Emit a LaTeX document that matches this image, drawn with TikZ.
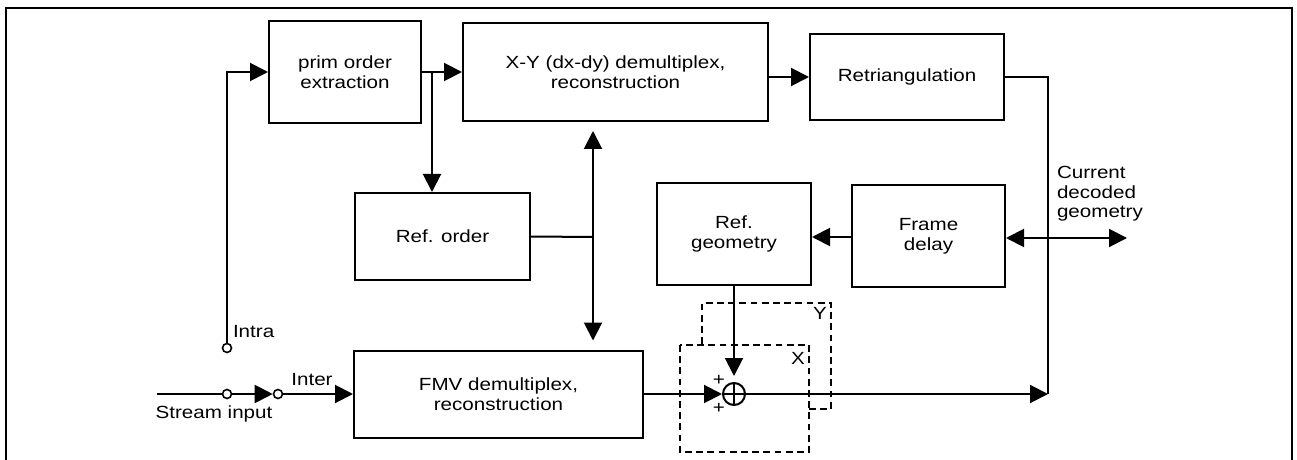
\documentclass[tikz,border=0pt]{standalone}
\usepackage{fontspec}
\setmainfont{Liberation Sans}[FakeStretch=1.17]
\usetikzlibrary{arrows.meta}
\begin{document}
\begin{tikzpicture}[x=0.5pt,y=-0.5pt,
    font=\fontsize{8.8pt}{9.8pt}\selectfont,
    line width=1pt,
    >={Triangle[length=9pt,width=9pt]},
    block/.style={draw,align=center,inner sep=0pt},
    contact/.style={draw,circle,minimum size=4.5pt,inner sep=0pt,line width=0.8pt},
    sumnode/.style={draw,circle,minimum size=11pt,inner sep=0pt},
    zone/.style={dashed,dash pattern=on 3.4pt off 2.2pt,line width=0.9pt},
    tag/.style={inner sep=0pt}]
  \useasboundingbox (0,0) rectangle (1297,460);
  % frame
  \draw (6,460) -- (6,8) -- (1292,8) -- (1292,460);
  % blocks
  \node[block,minimum width=76pt,minimum height=51pt] (prim) at (345,72) {prim order\\extraction};
  \node[block,minimum width=152.5pt,minimum height=49pt] (xydemux) at (615.5,72) {X-Y (dx-dy) demultiplex,\\reconstruction};
  \node[block,minimum width=97pt,minimum height=43pt] (retri) at (907,77) {Retriangulation};
  \node[block,minimum width=87.5pt,minimum height=43.5pt] (reforder) at (442.5,236.5) {Ref. order};
  \node[block,minimum width=77pt,minimum height=51pt] (refgeo) at (734,234) {Ref.\\geometry};
  \node[block,minimum width=76.5pt,minimum height=51pt] (delay) at (928.5,236) {Frame\\delay};
  \node[block,minimum width=144.5pt,minimum height=43.5pt] (fmv) at (498.5,394) {FMV demultiplex,\\reconstruction};
  \node[sumnode] (adder) at (734,394) {};
  \draw (adder.north) -- (adder.south) (adder.west) -- (adder.east);
  % switch
  \node[contact] (intra) at (227,348) {};
  \node[contact] (sw1) at (227,394) {};
  \node[contact] (sw2) at (278,394) {};
  \coordinate (input) at (157,394);
  \coordinate (j1) at (432,72);
  \coordinate (j2) at (593,237);
  \coordinate (merge) at (1048,394);
  \coordinate (current) at (1127,238);
  % labels
  \node[tag,anchor=west] (intralbl) at (232,332) {Intra};
  \node[tag] (interlbl) at (312,380) {Inter};
  \node[tag] (streamlbl) at (214,414) {Stream input};
  \node[tag,anchor=west,align=left] (currentlbl) at (1056,194) {Current\\decoded\\geometry};
  \node[tag] (plus1) at (719,380) {+};
  \node[tag] (plus2) at (719,408) {+};
  \node[tag] (xlbl) at (798,358) {X};
  \node[tag] (ylbl) at (820,313) {Y};
  % dashed zones
  \draw[zone] (680,345) rectangle (809,452);
  \draw[zone] (702,344) -- (702,303) -- (831,303) -- (831,409) -- (809,409);
  % connections
  \draw (input) -- (sw1);
  \draw[->] (sw1) -- (sw2);
  \draw[->] (sw2) -- (fmv.west);
  \draw[->] (intra) |- (prim.west);
  \draw[->] (prim) -- (xydemux);
  \draw[->] (j1) -- (j1 |- reforder.north);
  \draw[->] (xydemux.east |- retri) -- (retri.west);
  \draw (retri.east) -| (merge);
  \draw (reforder.east) -- (j2);
  \draw[<->,shorten <=4.5pt,shorten >=4.5pt] (j2 |- xydemux.south) -- (j2 |- fmv.north);
  \draw[->] (delay.west |- j2) -- (refgeo.east |- j2);
  \draw[<->] (delay.east |- current) -- (current);
  \draw[->,shorten >=3pt] (refgeo.south -| adder) -- (adder.north);
  \draw[->] (fmv.east) -- (adder.west);
  \draw[->] (adder.east) -- (merge);
\end{tikzpicture}
\end{document}
